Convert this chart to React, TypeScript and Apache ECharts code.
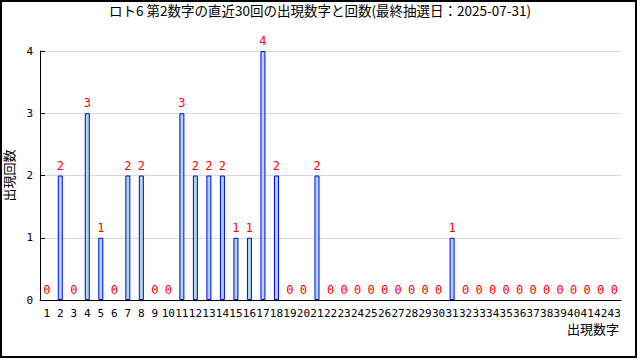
import React, { useEffect, useRef } from "react";
import * as echarts from "echarts";

const titleText = "ロト6 第2数字の直近30回の出現数字と回数(最終抽選日：2025-07-31)";
const categories = Array.from({ length: 43 }, (_, i) => String(i + 1));
const counts = [
  0, 2, 0, 3, 1, 0, 2, 2, 0, 0,
  3, 2, 2, 2, 1, 1, 4, 2, 0, 0,
  2, 0, 0, 0, 0, 0, 0, 0, 0, 0,
  1, 0, 0, 0, 0, 0, 0, 0, 0, 0,
  0, 0, 0,
];
const yAxisName = "出現回数";
const xAxisName = "出現数字";

const MONO = "'DejaVu Sans Mono', monospace";
const CJK = "'Noto Sans CJK JP', sans-serif";

export default function App() {
  const ref = useRef<HTMLDivElement>(null);
  useEffect(() => {
    document.body.style.margin = "0";
    const chart = echarts.init(ref.current!, null, { renderer: "svg" });
    const barData = counts.map((v) => ({
      value: v,
      itemStyle: v === 0 ? { borderWidth: 0, color: "transparent" } : undefined,
    }));
    chart.setOption({
      animation: false,
      backgroundColor: "#ffffff",
      title: {
        text: titleText,
        left: "center",
        top: 3,
        padding: 0,
        textStyle: { fontSize: 13.5, fontWeight: "normal", color: "#000", fontFamily: CJK },
      },
      grid: { left: 40, right: 19, top: 51, bottom: 60, containLabel: false, outerBoundsMode: "none" },
      xAxis: {
        type: "category",
        data: categories,
        boundaryGap: true,
        z: 5,
        axisLine: { lineStyle: { color: "#000", width: 1 } },
        axisTick: { inside: true, length: 5, alignWithLabel: false, lineStyle: { color: "#000" } },
        axisLabel: { interval: 0, color: "#000", fontSize: 11, fontFamily: MONO, margin: 8 },
        splitLine: { show: false },
      },
      yAxis: {
        type: "value",
        min: 0,
        max: 4,
        interval: 1,
        name: yAxisName,
        nameLocation: "middle",
        nameGap: 24,
        nameRotate: 90,
        nameTextStyle: { color: "#000", fontSize: 13, fontFamily: CJK },
        axisLine: { show: true, lineStyle: { color: "#000", width: 1 } },
        axisTick: { show: true, inside: true, length: 5, lineStyle: { color: "#000" } },
        axisLabel: { color: "#000", fontSize: 11, fontFamily: MONO, margin: 7 },
        splitLine: { show: true, lineStyle: { color: "#d9d9d9", width: 1 } },
      },
      graphic: [
        {
          type: "text",
          right: 21,
          top: 322,
          style: { text: xAxisName, fontSize: 13, fontFamily: CJK, fill: "#000" },
        },
        {
          type: "rect",
          shape: { x: 1, y: 1, width: 635, height: 356 },
          style: { fill: "none", stroke: "#000", lineWidth: 2 },
          silent: true,
        },
      ],
      series: [
        {
          type: "bar",
          data: barData,
          barWidth: 5,
          itemStyle: { color: "#add8e6", borderColor: "#0000ff", borderWidth: 1 },
          label: {
            show: true,
            position: "top",
            distance: 4,
            color: "#ff0000",
            fontSize: 12,
            fontFamily: MONO,
          },
        },
      ],
    });
    return () => chart.dispose();
  }, []);
  return <div ref={ref} style={{ width: 640, height: 360 }} />;
}
